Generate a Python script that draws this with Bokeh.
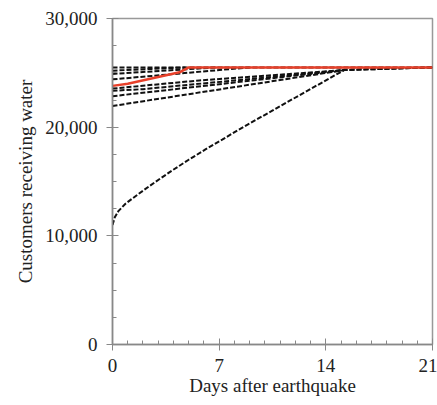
from bokeh.plotting import figure
from bokeh.models import FixedTicker, NumeralTickFormatter, Range1d
from bokeh.embed import file_html
from bokeh.resources import INLINE

# Scenario restoration curves (days, customers)
flat_days = [0, 21]
flat_vals = [25500, 25500]

s2_days = [0, 4.8]
s2_vals = [25200, 25500]

s3_days = [0, 6.8]
s3_vals = [24900, 25500]

s4_days = [0, 9.0]
s4_vals = [24400, 25500]

s5_days = [0, 5.7, 15.2, 21]
s5_vals = [23550, 24300, 25250, 25500]

s6_days = [0, 2, 15.2]
s6_vals = [23350, 23500, 25250]

s7_days = [0, 15.2]
s7_vals = [22850, 25250]

s8_days = [0, 15.2]
s8_vals = [21950, 25250]

big_days = [0, 0.15, 0.4, 0.85, 1.7, 2.8, 3.9, 5.0, 6.1, 7.2, 8.2, 9.35, 10.4, 11.4, 15.2, 21]
big_vals = [11000, 11700, 12300, 12950, 13850, 14950, 16000, 17000, 17950, 18850, 19700,
            20620, 21450, 22250, 25250, 25500]

red_days = [0, 1, 4.4, 5.0, 21]
red_vals = [23800, 24000, 25050, 25500, 25500]

x_ticks = [0, 7, 14, 21]
y_ticks = [0, 10000, 20000, 30000]

p = figure(width=437, height=405, output_backend="svg", toolbar_location=None,
           x_range=Range1d(0, 21), y_range=Range1d(0, 30000),
           min_border_left=112, min_border_right=5, min_border_top=18, min_border_bottom=61)

p.xgrid.visible = False
p.ygrid.visible = False
p.outline_line_color = "#999999"
p.outline_line_width = 1.5
p.background_fill_color = "white"
p.border_fill_color = "white"

dash = "5 2"
for d, v in [(flat_days, flat_vals), (s2_days, s2_vals), (s3_days, s3_vals),
             (s4_days, s4_vals), (s5_days, s5_vals), (s6_days, s6_vals),
             (s7_days, s7_vals), (s8_days, s8_vals), (big_days, big_vals)]:
    p.line(d, v, line_color="#111111", line_width=2, line_dash=dash)

p.line(red_days, red_vals, line_color="#e8402a", line_width=2.5)

font = "Liberation Serif"
for ax in (p.xaxis[0], p.yaxis[0]):
    ax.axis_line_color = "#888888"
    ax.axis_line_width = 1.5
    ax.major_tick_line_color = "#888888"
    ax.minor_tick_line_color = "#888888"
    ax.major_tick_in = 6
    ax.major_tick_out = 6
    ax.minor_tick_in = 4
    ax.minor_tick_out = 0
    ax.major_label_text_font = font
    ax.major_label_text_font_size = "19px"
    ax.major_label_text_color = "#222222"
    ax.axis_label_text_font = font
    ax.axis_label_text_font_size = "19px"
    ax.axis_label_text_font_style = "normal"
    ax.axis_label_text_color = "#222222"

p.xaxis.ticker = FixedTicker(ticks=x_ticks, minor_ticks=list(range(0, 22)))
p.yaxis.ticker = FixedTicker(ticks=y_ticks, minor_ticks=list(range(0, 30001, 2500)))
p.yaxis.formatter = NumeralTickFormatter(format="0,0")
p.xaxis.axis_label = "Days after earthquake"
p.yaxis.axis_label = "Customers receiving water"
p.xaxis.major_label_standoff = 8
p.yaxis.major_label_standoff = 9
p.xaxis.axis_label_standoff = 0
p.yaxis.axis_label_standoff = 6

open("out.html", "w").write(file_html(p, INLINE))
